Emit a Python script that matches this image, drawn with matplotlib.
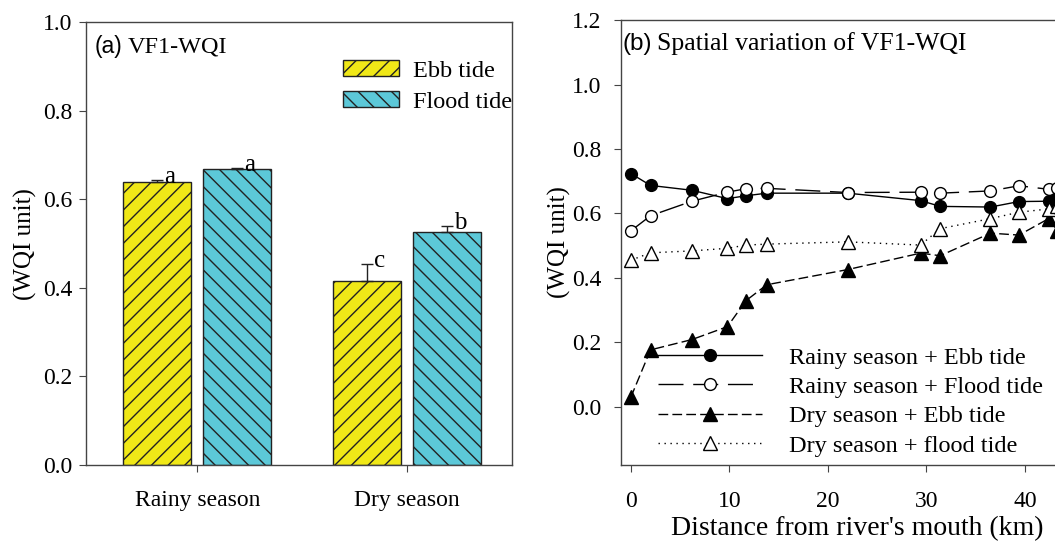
import matplotlib
matplotlib.use('Agg')
import matplotlib.pyplot as plt
from matplotlib.offsetbox import TextArea, HPacker, AnchoredOffsetbox
import numpy as np

plt.rcParams['font.family'] = ['Liberation Serif', 'DejaVu Serif']
plt.rcParams['font.size'] = 17
plt.rcParams['hatch.linewidth'] = 1.0

# panel (a): mean VF1-WQI per season / tide
seasons = ['Rainy season', 'Dry season']
ebb_mean = [0.639, 0.415]
ebb_err = [0.006, 0.039]
flood_mean = [0.669, 0.526]
flood_err = [0.003, 0.014]
ebb_letters = ['a', 'c']
flood_letters = ['a', 'b']

# panel (b): spatial variation along the river (km from mouth)
distance = [0, 2.0, 6.2, 9.8, 11.7, 13.8, 22.0, 29.4, 31.4, 36.5, 39.4, 42.4, 43.3]
rainy_ebb = [0.724, 0.687, 0.672, 0.646, 0.655, 0.663, 0.663, 0.640, 0.622, 0.620, 0.637, 0.638, 0.660]
rainy_flood = [0.546, 0.593, 0.638, 0.666, 0.677, 0.678, 0.665, 0.666, 0.663, 0.670, 0.686, 0.675, 0.678]
dry_ebb = [0.030, 0.177, 0.209, 0.249, 0.330, 0.379, 0.426, 0.477, 0.469, 0.539, 0.533, 0.584, 0.547]
dry_flood = [0.455, 0.478, 0.484, 0.492, 0.502, 0.505, 0.512, 0.502, 0.553, 0.584, 0.604, 0.614, 0.622]

yellow = '#F0E817'
cyan = '#5CC8D8'
edge = '#222222'
spine_col = '#444444'

fig = plt.figure(figsize=(10.55, 5.41), dpi=100)
ax1 = fig.add_axes([0.0815, 0.1405, 0.4038, 0.8181])
ax2 = fig.add_axes([0.5886, 0.1405, 0.4483, 0.8225])

# ---- panel (a) ----
x = np.arange(len(seasons))
w = 0.325
off = 0.19
ax1.bar(x - off, ebb_mean, w, color=yellow, edgecolor=edge, hatch='//', lw=1, label='Ebb tide')
ax1.bar(x + off, flood_mean, w, color=cyan, edgecolor=edge, hatch='\\\\', lw=1, label='Flood tide')
ax1.errorbar(x - off, ebb_mean, yerr=[np.zeros(len(x)), ebb_err], fmt='none',
             ecolor=edge, elinewidth=1, capsize=4, capthick=1)
ax1.errorbar(x + off, flood_mean, yerr=[np.zeros(len(x)), flood_err], fmt='none',
             ecolor=edge, elinewidth=1, capsize=4, capthick=1)
for xs, means, errs, letters in [(x - off, ebb_mean, ebb_err, ebb_letters),
                                 (x + off, flood_mean, flood_err, flood_letters)]:
    for xi, m, e, s in zip(xs, means, errs, letters):
        ax1.annotate(s, (xi, m + e), xytext=(5, 2), textcoords='offset points',
                     ha='left', va='center', fontsize=18)

ax1.set_xlim(-0.53, 1.5)
ax1.set_ylim(0, 1.0)
ax1.set_xticks(x)
ax1.set_xticklabels(seasons)
ax1.set_yticks(np.arange(0, 1.01, 0.2))
ax1.yaxis.set_major_formatter(matplotlib.ticker.FormatStrFormatter('%.1f'))
ax1.tick_params(axis='y', direction='out', length=5, pad=5)
ax1.tick_params(axis='x', direction='out', length=5, pad=13)
ax1.set_ylabel('(WQI unit)', labelpad=4, fontsize=18)
ax1.legend(loc='upper left', bbox_to_anchor=(0.603, 0.914), frameon=False,
           handlelength=2.3, handleheight=0.6, handletextpad=0.6,
           labelspacing=0.39, borderpad=0, borderaxespad=0, fontsize=17.5)

# ---- panel (b) ----
ax2.plot(distance, rainy_ebb, '-', color='k', lw=1, marker='o', ms=8.5,
         mfc='k', mec='k', label='Rainy season + Ebb tide')
ax2.plot(distance, rainy_flood, color='k', lw=1, dashes=(18, 7), marker='o', ms=8.5,
         mfc='white', mec='k', label='Rainy season + Flood tide')
ax2.plot(distance, dry_ebb, color='k', lw=1, dashes=(7, 3), marker='^', ms=9.5,
         mfc='k', mec='k', label='Dry season + Ebb tide')
ax2.plot(distance, dry_flood, color='k', lw=1, dashes=(1, 3.3), marker='^', ms=9.5,
         mfc='white', mec='k', label='Dry season + flood tide')

ax2.set_xlim(-1, 47)
ax2.set_ylim(-0.18, 1.2)
ax2.set_xticks(np.arange(0, 41, 10))
ax2.set_yticks(np.arange(0, 1.21, 0.2))
ax2.yaxis.set_major_formatter(matplotlib.ticker.FormatStrFormatter('%.1f'))
ax2.tick_params(axis='y', direction='out', length=5, pad=9)
ax2.tick_params(axis='x', direction='out', length=5, pad=14)
ax2.set_ylabel('(WQI unit)', labelpad=1, fontsize=18)
ax2.set_xlabel("Distance from river's mouth (km)", labelpad=3, fontsize=20)
ax2.legend(loc='lower left', bbox_to_anchor=(0.078, 0.019), frameon=False,
           handlelength=4.3, handletextpad=1.1, labelspacing=0.3,
           borderpad=0, borderaxespad=0, numpoints=1, fontsize=17.5)

for ax in (ax1, ax2):
    for sp in ax.spines.values():
        sp.set_color(spine_col)
        sp.set_linewidth(1)
    ax.tick_params(colors=spine_col, labelcolor='k')


def panel_title(ax, tag, text, xy, size):
    box = HPacker(children=[TextArea(tag, textprops=dict(family='Liberation Sans', size=size - 1)),
                            TextArea(text, textprops=dict(family='Liberation Serif', size=size))],
                  align='baseline', pad=0, sep=4)
    anc = AnchoredOffsetbox(loc='upper left', child=box, pad=0, borderpad=0,
                            frameon=False, bbox_to_anchor=xy,
                            bbox_transform=ax.transAxes)
    ax.add_artist(anc)


panel_title(ax1, '(a)', 'VF1-WQI', (0.02, 0.972), 17.5)
panel_title(ax2, '(b)', 'Spatial variation of VF1-WQI', (0.003, 0.972), 18.5)

fig.savefig('out.png', dpi=100)
